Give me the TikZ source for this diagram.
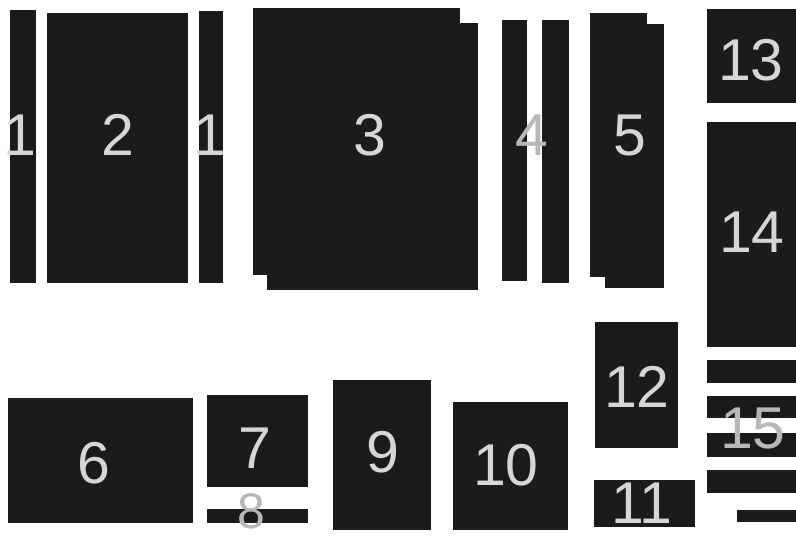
\documentclass[tikz,border=0pt]{standalone}
\usepackage{fontspec}
\setmainfont{Liberation Sans}
\definecolor{boxc}{HTML}{1B1B1B}
\definecolor{txtc}{HTML}{D6D6D6}
\definecolor{txtd}{HTML}{B8B8B8}
\begin{document}
\begin{tikzpicture}[x=1pt,y=-1pt,
  box/.style={fill=boxc},
  lab/.style={text=txtc,font=\fontsize{59}{59}\selectfont,inner sep=0pt,anchor=center},
  labdim/.style={lab,text=txtd}]
\useasboundingbox[fill=white] (0,0) rectangle (796,537);
% top row
\fill[box] (10,10) rectangle (36,283);
\fill[box] (47,13) rectangle (188,283);
\fill[box] (199,11) rectangle (223,283);
\fill[box] (253,8) rectangle (460,275);
\fill[box] (267,23) rectangle (478,290);
\fill[box] (502,20) rectangle (527,281);
\fill[box] (542,20) rectangle (569,283);
\fill[box] (590,13) rectangle (647,277);
\fill[box] (605,24) rectangle (664,288);
\fill[box] (707,9) rectangle (796,103);
\fill[box] (707,122) rectangle (796,347);
% bottom row
\fill[box] (8,398) rectangle (193,523);
\fill[box] (207,395) rectangle (308,487);
\fill[box] (207,509) rectangle (308,523);
\fill[box] (333,380) rectangle (431,530);
\fill[box] (453,402) rectangle (568,530);
\fill[box] (595,322) rectangle (678,448);
\fill[box] (594,480) rectangle (695,527);
\fill[box] (707,360) rectangle (796,383);
\fill[box] (707,396) rectangle (796,418);
\fill[box] (707,433) rectangle (796,457);
\fill[box] (707,470) rectangle (796,493);
\fill[box] (737,510) rectangle (796,522);
% labels
\node[lab] (l1a) at (20,135) {1};
\node[lab] (l2) at (118,135) {2};
\node[lab] (l1b) at (210,135) {1};
\node[lab] (l3) at (370,135) {3};
\node[labdim] (l4) at (532,135) {4};
\node[lab] (l5) at (630,135) {5};
\node[lab] (l13) at (751,60) {13};
\node[lab] (l14) at (752,232) {14};
\node[lab] (l6) at (94,463) {6};
\node[lab] (l7) at (255,448) {7};
\node[labdim,font=\fontsize{50}{50}\selectfont] (l8) at (251,511) {8};
\node[lab] (l9) at (383,452) {9};
\node[lab] (l10) at (506,465) {10};
\node[lab] (l12) at (637,387) {12};
\node[lab] (l11) at (642,503) {11};
\node[labdim] (l15) at (753,428) {15};
\end{tikzpicture}
\end{document}
